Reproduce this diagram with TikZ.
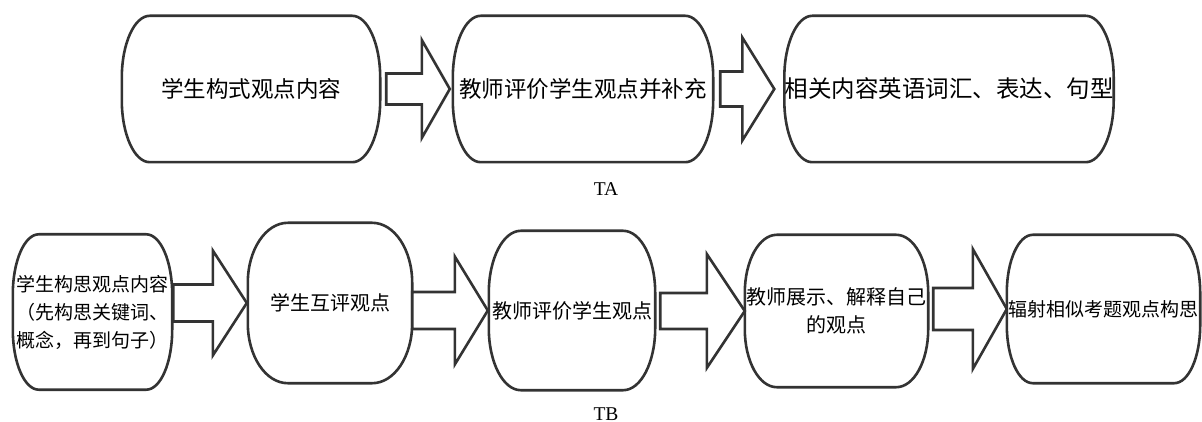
\documentclass[tikz,border=0pt]{standalone}
\usepackage{fontspec}
\setmainfont{Liberation Serif}
\newfontfamily\cjk{Noto Sans CJK SC}
\usetikzlibrary{calc}
% outline of a stage box with elliptical corners: node, rx, ry
\newcommand\capsule[3]{%
  \draw[outline] let \p1=(#1.north west), \p2=(#1.south east) in
    (\x1+#2pt,\y1) -- (\x2-#2pt,\y1)
    arc[start angle=90,end angle=0,x radius=#2pt,y radius=#3pt]
    -- (\x2,\y2+#3pt)
    arc[start angle=0,end angle=-90,x radius=#2pt,y radius=#3pt]
    -- (\x1+#2pt,\y2)
    arc[start angle=270,end angle=180,x radius=#2pt,y radius=#3pt]
    -- (\x1,\y1-#3pt)
    arc[start angle=180,end angle=90,x radius=#2pt,y radius=#3pt]
    -- cycle;}
% block arrow: from, to, gap, tipgap, headlen, shafthalf, headhalf
\newcommand\blockarrow[7]{%
  \draw[barrow] let \p1=(#1.east), \p2=(#2.west) in
    (\x1+#3pt,\y2+#6pt) -- (\x2-#4pt-#5pt,\y2+#6pt) -- (\x2-#4pt-#5pt,\y2+#7pt)
    -- (\x2-#4pt,\y2) -- (\x2-#4pt-#5pt,\y2-#7pt) -- (\x2-#4pt-#5pt,\y2-#6pt)
    -- (\x1+#3pt,\y2-#6pt) -- cycle;}
\begin{document}
\begin{tikzpicture}[x=1pt,y=1pt]
\tikzset{
  stage/.style={inner sep=0pt, align=center, text=black,
    font=\cjk\fontsize{#1}{28}\selectfont},
  stage/.default=22.5,
  outline/.style={draw=black!80, line width=2.6pt},
  barrow/.style={draw=black!80, line width=2.6pt, fill=white, line join=miter},
  caption/.style={font=\fontsize{19.5}{22}\selectfont, anchor=base, inner sep=0pt}
}
\useasboundingbox[fill=white] (0,0) rectangle (1202,-422);
% TA row
\node[stage, minimum width=258pt, minimum height=146pt] (a1) at (251,-89) {学生构式观点内容};
\node[stage, minimum width=260pt, minimum height=146pt] (a2) at (583,-89) {教师评价学生观点并补充};
\node[stage=23.5, minimum width=292pt, minimum height=146pt] (a3) at (949,-89) {相关内容英语词汇、表达、句型};
\capsule{a1}{28}{62}
\capsule{a2}{28}{62}
\capsule{a3}{28}{62}
\blockarrow{a1}{a2}{6}{3}{28}{15.5}{49}
\blockarrow{a2}{a3}{7}{10}{32}{17.5}{51.5}
\node[caption] (ta) at (606,-196) {TA};
% TB row
\node[stage=19, minimum width=159pt, minimum height=155pt] (b1) at (92.5,-312) {学生构思观点内容\\（先构思关键词、\\概念，再到句子）};
\node[stage=20, minimum width=164pt, minimum height=160pt] (b2) at (330,-303) {学生互评观点};
\node[stage=20, minimum width=166pt, minimum height=159pt] (b3) at (572,-310.5) {教师评价学生观点};
\node[stage=20, minimum width=183pt, minimum height=152pt] (b4) at (836.5,-311) {教师展示、解释自己\\的观点};
\node[stage=19, minimum width=193pt, minimum height=148pt] (b5) at (1103.5,-309) {辐射相似考题观点构思};
\capsule{b1}{26}{60}
\capsule{b2}{40}{60}
\capsule{b3}{32}{62}
\capsule{b4}{32}{58}
\capsule{b5}{26}{58}
\blockarrow{b1}{b2}{1}{1}{34}{18.5}{52.5}
\blockarrow{b2}{b3}{0}{1}{33}{18.5}{54}
\blockarrow{b3}{b4}{5}{0}{38}{18}{57}
\blockarrow{b4}{b5}{5}{0}{34}{21}{60}
\node[caption] (tb) at (606,-420) {TB};
\end{tikzpicture}
\end{document}
